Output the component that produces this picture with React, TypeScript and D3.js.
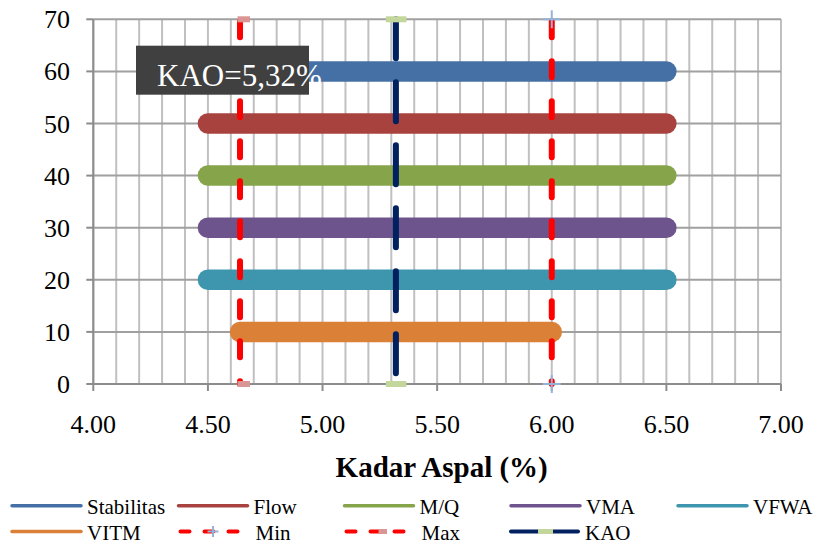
import React from "react";
import * as d3 from "d3";

// Asphalt content ranges that satisfy each Marshall criterion
const seriesNames = ["Stabilitas", "Flow", "M/Q", "VMA", "VFWA", "VITM"];
const seriesColors = ["#4470A5", "#A8423F", "#86A44A", "#6E548D", "#3D96AE", "#DA8137"];
const rangeFrom = [4.5, 4.5, 4.5, 4.5, 4.5, 4.64];
const rangeTo = [6.5, 6.5, 6.5, 6.5, 6.5, 6.0];
const rangeLevel = [60, 50, 40, 30, 20, 10];

// Vertical guide lines
const minAsphalt = 6.0;
const maxAsphalt = 4.64;
const kaoValue = 5.32;
const guideSpan = [0, 70];

const xTicks = [4.0, 4.5, 5.0, 5.5, 6.0, 6.5, 7.0];
const yTicks = [0, 10, 20, 30, 40, 50, 60, 70];

const W = 822;
const H = 541;
const FONT = "'Liberation Serif', serif";

const x = d3.scaleLinear().domain([4, 7]).range([93.3, 781]);
const y = d3.scaleLinear().domain([0, 70]).range([384, 19.3]);

const minorX = d3.range(0, 31).map((i) => 4 + i * 0.1);

const vline = d3
  .line<number>()
  .x(() => 0)
  .y((d) => y(d));

function Plus({ cx, cy, r, color }: { cx: number; cy: number; r: number; color: string }) {
  return (
    <g stroke={color} strokeWidth={2}>
      <line x1={cx - r} x2={cx + r} y1={cy} y2={cy} />
      <line x1={cx} x2={cx} y1={cy - r} y2={cy + r} />
    </g>
  );
}

const txt = (size: number, extra: React.CSSProperties = {}): React.CSSProperties => ({
  fontFamily: FONT,
  fontSize: size,
  ...extra,
});

export default function App() {
  const label = `KAO=${kaoValue.toFixed(2).replace(".", ",")}%`;

  const legendCols = [12, 178.5, 344.5, 511, 678];
  const row1 = 505.7;
  const row2 = 531.5;
  const lineLen = 69;

  const legendLines = seriesNames.map((name, i) => {
    const col = i < 5 ? legendCols[i] : legendCols[0];
    const ry = i < 5 ? row1 : row2;
    return { name, color: seriesColors[i], x0: col, yy: ry };
  });

  const guidePath = vline(guideSpan.slice().reverse()) || "";

  return (
    <div style={{ position: "absolute", left: 0, top: 0, width: W, height: H, background: "#fff" }}>
      <svg width={W} height={H} style={{ display: "block" }}>
        {/* vertical gridlines */}
        {minorX.map((v, i) => (
          <line key={"gx" + i} x1={x(v)} x2={x(v)} y1={y(70)} y2={y(0)} stroke="#C0C0C0" strokeWidth={2} />
        ))}
        {/* horizontal gridlines */}
        {yTicks.map((v) => (
          <line key={"gy" + v} x1={x(4)} x2={x(7)} y1={y(v)} y2={y(v)} stroke="#A0A0A0" strokeWidth={2} />
        ))}
        {/* axes */}
        <line x1={x(4)} x2={x(4)} y1={y(70)} y2={y(0)} stroke="#8C8C8C" strokeWidth={2} />
        <line x1={x(4)} x2={x(7)} y1={y(0)} y2={y(0)} stroke="#8C8C8C" strokeWidth={2} />
        {yTicks.map((v) => (
          <line key={"ty" + v} x1={x(4) - 7} x2={x(4)} y1={y(v)} y2={y(v)} stroke="#8C8C8C" strokeWidth={2} />
        ))}
        {xTicks.map((v) => (
          <line key={"tx" + v} x1={x(v)} x2={x(v)} y1={y(0)} y2={y(0) + 7} stroke="#8C8C8C" strokeWidth={2} />
        ))}
        {/* tick labels */}
        {yTicks.map((v) => (
          <text key={"ly" + v} x={70} y={y(v) + 9} textAnchor="end" style={txt(26)} fill="#000">
            {v}
          </text>
        ))}
        {xTicks.map((v) => (
          <text key={"lx" + v} x={x(v)} y={433} textAnchor="middle" style={txt(26)} fill="#000">
            {v.toFixed(2)}
          </text>
        ))}
        <text x={441.7} y={476.5} textAnchor="middle" style={txt(29, { fontWeight: "bold" })} fill="#000">
          Kadar Aspal (%)
        </text>

        {/* range bars */}
        {seriesNames.map((name, i) => (
          <line
            key={name}
            x1={x(rangeFrom[i])}
            x2={x(rangeTo[i])}
            y1={y(rangeLevel[i])}
            y2={y(rangeLevel[i])}
            stroke={seriesColors[i]}
            strokeWidth={20.5}
            strokeLinecap="round"
          />
        ))}

        {/* Max guide */}
        <path
          d={guidePath}
          transform={`translate(${x(maxAsphalt)},0)`}
          fill="none"
          stroke="#FF0000"
          strokeWidth={6}
          strokeLinecap="round"
          strokeDasharray="16,24"
          strokeDashoffset={-2}
        />
        {guideSpan.map((v) => (
          <rect key={"mx" + v} x={x(maxAsphalt) - 2.5} y={y(v) - 3} width={12.5} height={6} fill="#D99694" />
        ))}

        {/* Min guide */}
        <path
          d={guidePath}
          transform={`translate(${x(minAsphalt)},0)`}
          fill="none"
          stroke="#FF0000"
          strokeWidth={6}
          strokeLinecap="round"
          strokeDasharray="16,24"
          strokeDashoffset={-2}
        />
        {guideSpan.map((v) => (
          <Plus key={"mn" + v} cx={x(minAsphalt)} cy={y(v)} r={9} color="#95B3D7" />
        ))}

        {/* KAO guide */}
        <path
          d={guidePath}
          transform={`translate(${x(kaoValue)},0)`}
          fill="none"
          stroke="#002060"
          strokeWidth={6}
          strokeLinecap="round"
          strokeDasharray="39,24"
        />
        {guideSpan.map((v) => (
          <rect key={"kao" + v} x={x(kaoValue) - 10} y={y(v) - 3} width={20.5} height={6} fill="#C3D69B" />
        ))}

        {/* KAO label */}
        <rect x={136} y={45.7} width={173} height={49} fill="#404040" />
        <text x={157} y={86} style={txt(31)} fill="#FFFFFF">
          {label}
        </text>

        {/* legend */}
        {legendLines.map((d) => (
          <g key={"lg" + d.name}>
            <line x1={d.x0} x2={d.x0 + lineLen} y1={d.yy} y2={d.yy} stroke={d.color} strokeWidth={3.5} strokeLinecap="round" />
            <text x={d.x0 + lineLen + 6} y={d.yy + 8} style={txt(21)} fill="#000">
              {d.name}
            </text>
          </g>
        ))}
        {/* Min legend */}
        <line
          x1={legendCols[1] + 2}
          x2={legendCols[1] + lineLen}
          y1={row2}
          y2={row2}
          stroke="#FF0000"
          strokeWidth={4}
          strokeLinecap="round"
          strokeDasharray="9,15"
        />
        <Plus cx={legendCols[1] + 34.5} cy={row2} r={5.5} color="#95B3D7" />
        <text x={legendCols[1] + lineLen + 8} y={row2 + 8} style={txt(21)} fill="#000">
          Min
        </text>
        {/* Max legend */}
        <line
          x1={legendCols[2] + 2}
          x2={legendCols[2] + lineLen}
          y1={row2}
          y2={row2}
          stroke="#FF0000"
          strokeWidth={4}
          strokeLinecap="round"
          strokeDasharray="9,15"
        />
        <rect x={legendCols[2] + 34} y={row2 - 2.5} width={8.5} height={5} fill="#D99694" />
        <text x={legendCols[2] + lineLen + 8} y={row2 + 8} style={txt(21)} fill="#000">
          Max
        </text>
        {/* KAO legend */}
        <line
          x1={legendCols[3]}
          x2={legendCols[3] + lineLen - 2}
          y1={row2}
          y2={row2}
          stroke="#002060"
          strokeWidth={4}
          strokeLinecap="round"
        />
        <rect x={legendCols[3] + 27} y={row2 - 2.5} width={15} height={5} fill="#C3D69B" />
        <text x={legendCols[3] + lineLen + 5} y={row2 + 8} style={txt(21)} fill="#000">
          KAO
        </text>
      </svg>
    </div>
  );
}
